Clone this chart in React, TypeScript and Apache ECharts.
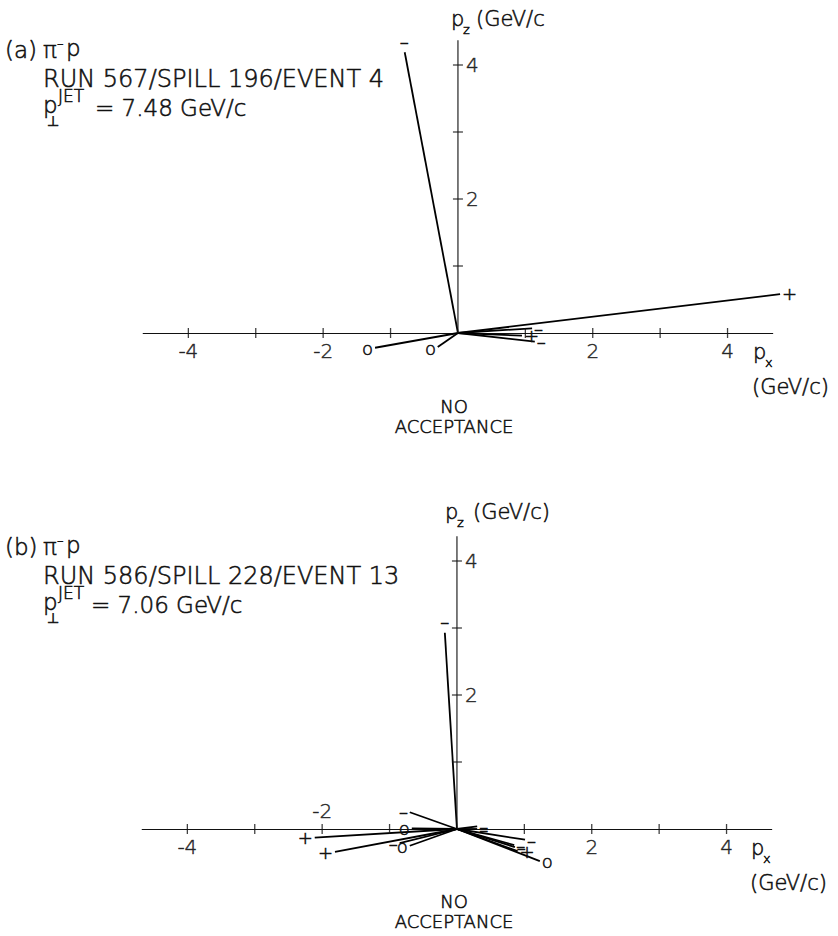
import React, { useEffect, useRef } from "react";
import * as echarts from "echarts";

const FONT = '"DejaVu Sans", "Liberation Sans", sans-serif';
const INK = "#111";
// light face thickened by a hairline outline, close to a pen-plotter stroke
const WEIGHT = 200;
const OUTLINE = 0.55;

// axis extents in GeV/c
const X_MIN = -4.67;
const X_MAX = 4.67;
const Z_MIN = -1.5;
const Z_MAX = 4.6;
const Z_AXIS_TOP = 4.37;

// tick positions and labelled values
const X_TICKS = [-4, -3, -2, -1, 1, 2, 3, 4];
const Z_TICKS = [1, 2, 3, 4];
const X_LABELS_A = [-4, -2, 2, 4];
const X_LABELS_B = [-4, 2, 4];
const X_LABELS_B_ABOVE = [-2];
const Z_LABELS = [2, 4];

// event (a): RUN 567 / SPILL 196 / EVENT 4 — track momenta (px, pz) and charge marks
const pxA = [-0.79, 4.78, -1.23, -0.3, 1.1, 0.95, 1.14];
const pzA = [4.19, 0.58, -0.22, -0.21, 0.07, -0.04, -0.13];
const qA = ["-", "+", "o", "o", "-", "+", "-"];

// event (b): RUN 586 / SPILL 228 / EVENT 13
const pxB = [-0.18, -2.11, -1.81, -0.7, -0.67, -0.7, -0.85, 0.3, 0.3, 1.01, 0.85, 0.86, 0.9, 1.23];
const pzB = [2.93, -0.13, -0.34, 0.25, 0.01, -0.25, -0.21, 0.04, 0.0, -0.16, -0.24, -0.27, -0.33, -0.48];
const qB = ["-", "+", "+", "-", "o", "o", "-", "-", "-", "-", "-", "-", "+", "o"];

type Panel = {
  px: number[];
  pz: number[];
  q: string[];
  xLabels: number[];
  xLabelsAbove: number[];
};

const PANELS: Panel[] = [
  { px: pxA, pz: pzA, q: qA, xLabels: X_LABELS_A, xLabelsAbove: [] },
  { px: pxB, pz: pzB, q: qB, xLabels: X_LABELS_B, xLabelsAbove: X_LABELS_B_ABOVE },
];

// grid placement of each panel
const GRIDS = [
  { left: 143.2, top: 24.8, width: 629.5, height: 408.7 },
  { left: 142.2, top: 520.8, width: 629.5, height: 408.7 },
];

const labelFont = {
  fontFamily: FONT,
  fontWeight: WEIGHT,
  color: INK,
  textBorderColor: INK,
  textBorderWidth: OUTLINE,
};

const tickLabelStyle = { ...labelFont, fontSize: 20 };

function txt(x: number, y: number, text: string, size: number, extra: any = {}) {
  return {
    type: "text",
    x,
    y,
    silent: true,
    style: {
      text,
      fill: INK,
      stroke: INK,
      lineWidth: OUTLINE,
      fontSize: size,
      fontFamily: FONT,
      fontWeight: WEIGHT,
      align: "left",
      verticalAlign: "middle",
      ...extra,
    },
  };
}

function headerTexts(dy: number, tag: string, run: string, pt: string, eqX: number) {
  return [
    txt(5, 50 + dy, tag, 23),
    txt(43, 50 + dy, "π", 23),
    txt(57, 43 + dy, "–", 13),
    txt(66, 48 + dy, "p", 23),
    txt(43, 79 + dy, run, 24),
    txt(43, 105 + dy, "p", 23),
    txt(47, 121 + dy, "⊥", 14),
    txt(58, 96 + dy, "JET", 17),
    txt(eqX, 108 + dy, "= " + pt + " GeV/c", 23),
  ];
}

function buildOption() {
  const grid = GRIDS.map((g) => ({ ...g, containLabel: false, outerBoundsMode: "none" }));
  const xAxis = PANELS.map((_p, i) => ({
    type: "value",
    gridIndex: i,
    min: X_MIN,
    max: X_MAX,
    axisLine: { show: true, onZero: true, lineStyle: { color: INK, width: 1.1 } },
    axisTick: { show: false },
    splitLine: { show: false },
    axisLabel: { show: false },
  }));
  const yAxis = PANELS.map((_p, i) => ({
    type: "value",
    gridIndex: i,
    min: Z_MIN,
    max: Z_MAX,
    axisLine: { show: false },
    axisTick: { show: false },
    splitLine: { show: false },
    axisLabel: { show: false },
  }));

  const series: any[] = [];
  PANELS.forEach((p, i) => {
    // tracks from the interaction vertex, each ending in its charge mark
    series.push({
      type: "lines",
      coordinateSystem: "cartesian2d",
      xAxisIndex: i,
      yAxisIndex: i,
      clip: false,
      silent: true,
      lineStyle: { color: "#000", width: 1.8, opacity: 1 },
      label: {
        show: true,
        position: "end",
        distance: 2,
        formatter: (prm: any) => (prm.name === "-" ? "–" : prm.name),
        fontSize: 18,
        ...labelFont,
      },
      data: p.px.map((x, k) => ({ name: p.q[k], coords: [[0, 0], [x, p.pz[k]]] })),
    });
    // pz axis drawn upward from the origin only
    series.push({
      type: "line",
      xAxisIndex: i,
      yAxisIndex: i,
      silent: true,
      symbol: "none",
      lineStyle: { color: INK, width: 1.1 },
      data: [
        [0, 0],
        [0, Z_AXIS_TOP],
      ],
    });
    // crossing tick marks and labels on the px axis
    series.push({
      type: "scatter",
      xAxisIndex: i,
      yAxisIndex: i,
      silent: true,
      symbol: "rect",
      symbolSize: [1.3, 10],
      itemStyle: { color: INK },
      data: X_TICKS.map((v) => {
        if (p.xLabels.includes(v)) {
          return {
            value: [v, 0],
            label: { show: true, position: "bottom", distance: 3, formatter: String(v), ...tickLabelStyle },
          };
        }
        if (p.xLabelsAbove.includes(v)) {
          return {
            value: [v, 0],
            label: { show: true, position: "top", distance: 3, formatter: String(v), ...tickLabelStyle },
          };
        }
        return { value: [v, 0] };
      }),
    });
    // crossing tick marks and labels on the pz axis
    series.push({
      type: "scatter",
      xAxisIndex: i,
      yAxisIndex: i,
      silent: true,
      symbol: "rect",
      symbolSize: [10, 1.3],
      itemStyle: { color: INK },
      data: Z_TICKS.map((v) =>
        Z_LABELS.includes(v)
          ? {
              value: [0, v],
              label: { show: true, position: "right", distance: 3, formatter: String(v), ...tickLabelStyle },
            }
          : { value: [0, v] }
      ),
    });
  });

  const graphic: any[] = [
    ...headerTexts(0, "(a)", "RUN 567/SPILL 196/EVENT 4", "7.48", 95),
    ...headerTexts(497, "(b)", "RUN 586/SPILL 228/EVENT 13", "7.06", 91),
    // panel (a) axis titles
    txt(451, 19, "p", 21),
    txt(463, 29, "z", 13),
    txt(476, 19, "(GeV/c", 21),
    txt(753, 352, "p", 21),
    txt(765, 362, "x", 13),
    txt(752, 387, "(GeV/c)", 21),
    txt(454, 406, "NO", 18, { align: "center" }),
    txt(454, 426, "ACCEPTANCE", 18, { align: "center" }),
    // panel (b) axis titles
    txt(445, 512, "p", 21),
    txt(457, 522, "z", 13),
    txt(473, 512, "(GeV/c)", 21),
    txt(751, 848, "p", 21),
    txt(763, 858, "x", 13),
    txt(750, 883, "(GeV/c)", 21),
    txt(454, 901, "NO", 18, { align: "center" }),
    txt(454, 921, "ACCEPTANCE", 18, { align: "center" }),
  ];

  return {
    animation: false,
    backgroundColor: "#fff",
    grid,
    xAxis,
    yAxis,
    series,
    graphic,
  };
}

export default function App() {
  const ref = useRef<HTMLDivElement>(null);
  useEffect(() => {
    if (!ref.current) return;
    const chart = echarts.init(ref.current, undefined, { renderer: "svg" });
    chart.setOption(buildOption() as any);
    return () => chart.dispose();
  }, []);
  return (
    <div
      ref={ref}
      style={{ position: "absolute", left: 0, top: 0, width: 838, height: 936, background: "#fff" }}
    />
  );
}
